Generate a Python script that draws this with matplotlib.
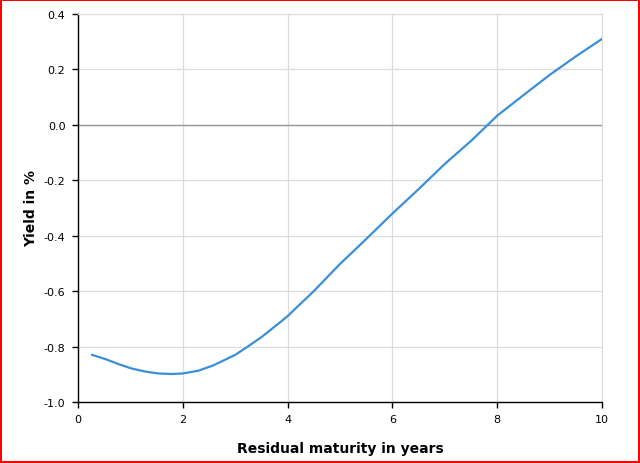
import matplotlib
matplotlib.use('Agg')
from matplotlib import pyplot as plt

# residual maturity (years) and yield (%)
maturity = [0.27, 0.52, 0.77, 1.02, 1.28, 1.53, 1.79, 2.0, 2.3, 2.58, 3.0, 3.24,
            3.5, 3.86, 4.0, 4.5, 5.0, 5.5, 6.0, 6.5, 7.0, 7.5, 7.82, 8.0, 8.5,
            9.0, 9.5, 10.0]
yields = [-0.830, -0.845, -0.863, -0.879, -0.890, -0.897, -0.899, -0.897, -0.887,
          -0.868, -0.830, -0.800, -0.766, -0.712, -0.690, -0.600, -0.502, -0.412,
          -0.320, -0.232, -0.141, -0.058, 0.0, 0.033, 0.107, 0.180, 0.247, 0.310]

x_ticks = [0, 2, 4, 6, 8, 10]
y_ticks = [-1.0, -0.8, -0.6, -0.4, -0.2, 0.0, 0.2, 0.4]

grid_col = '#dcdcdc'

fig = plt.figure(figsize=(6.4, 4.64), dpi=100, edgecolor='red', linewidth=1.5)
ax = fig.add_axes([78/640, 1 - 403/464, 524/640, 388/464])

ax.plot(maturity, yields, color='#3a8fd9', lw=1.6, zorder=3,
        solid_joinstyle='round')
ax.axhline(0, color='#999999', lw=1, zorder=2)

ax.set_xlim(0, 10)
ax.set_ylim(-1.0, 0.4)
ax.set_xticks(x_ticks)
ax.set_yticks(y_ticks)
ax.set_xticklabels([str(t) for t in x_ticks])
ax.set_yticklabels(['%.1f' % t for t in y_ticks])
ax.grid(True, color=grid_col, lw=0.9, zorder=0)
ax.set_axisbelow(True)

for s in ['top', 'right']:
    ax.spines[s].set_color(grid_col)
for s in ['left', 'bottom']:
    ax.spines[s].set_color('black')
    ax.spines[s].set_linewidth(1.0)

ax.tick_params(direction='out', length=4, width=1, labelsize=8, colors='black', pad=5)

ax.set_xlabel('Residual maturity in years', fontsize=10, fontweight='bold', labelpad=12)
ax.set_ylabel('Yield in %', fontsize=10, fontweight='bold', labelpad=4)

fig.savefig('out.png', dpi=100, edgecolor=fig.get_edgecolor())
